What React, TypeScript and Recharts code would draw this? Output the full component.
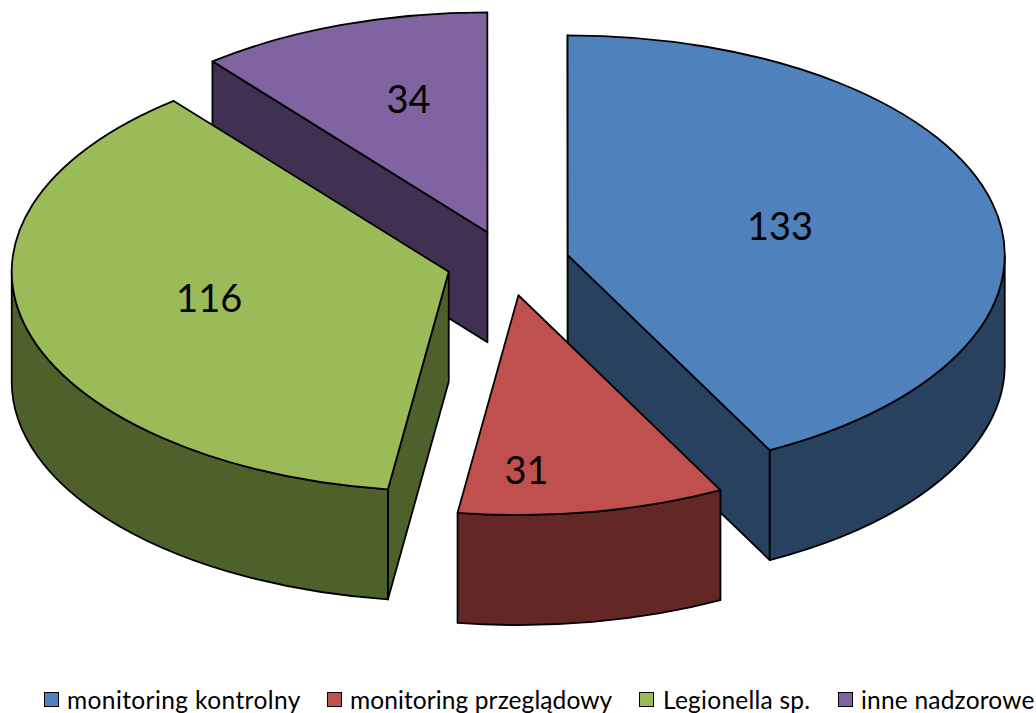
import React from 'react';
import { PieChart, Pie, Cell, Legend } from 'recharts';

const categories = ['monitoring kontrolny', 'monitoring przeglądowy', 'Legionella sp.', 'inne nadzorowe'];
const values = [133, 31, 116, 34];
const topColors = ['#4F81BD', '#C0504D', '#9BBB59', '#8064A2'];
const wallColors = ['#28415F', '#632726', '#4F612B', '#403152'];

// Painted back to front: the purple slice first, so the others overlap it.
const paintOrder = [3, 0, 1, 2];
const tableData = paintOrder.map((i) => ({ name: categories[i], value: values[i], index: i }));

const TILT = 0.503;
const DEPTH = 110;
const EXPLODE_X = 61.5;
const EXPLODE_Y = 32.7;
const labelNudge = [
  { dx: 0, dy: -4 },
  { dx: -29, dy: 65 },
  { dx: -29, dy: -4 },
  { dx: -6, dy: -31 },
];
const legendX = [
  { box: 44, text: 67, spacing: 0.4 },
  { box: 327, text: 350, spacing: 0.1 },
  { box: 639, text: 663, spacing: 0.25 },
  { box: 838, text: 861, spacing: 0.2 },
];

const rad = (d: number) => (d * Math.PI) / 180;

function Slice3D(props: any) {
  const { cx, cy, outerRadius, startAngle, endAngle, payload } = props;
  const idx = payload?.index ?? props.index;
  const a = 90 - startAngle;
  const b = 90 - endAngle;
  const mid = (a + b) / 2;
  const ox = cx + EXPLODE_X * Math.sin(rad(mid));
  const oy = cy - EXPLODE_Y * Math.cos(rad(mid));
  const pt = (t: number, drop = 0): [number, number] => [
    ox + outerRadius * Math.sin(rad(t)),
    oy - outerRadius * TILT * Math.cos(rad(t)) + drop,
  ];
  const p = (q: [number, number]) => `${q[0].toFixed(2)} ${q[1].toFixed(2)}`;
  const arc = (to: number, sweep: number, large: number, drop = 0) =>
    `A ${outerRadius} ${outerRadius * TILT} 0 ${large} ${sweep} ${p(pt(to, drop))}`;

  const walls: string[] = [];
  const apex: [number, number] = [ox, oy];
  const apexLow: [number, number] = [ox, oy + DEPTH];
  if (Math.sin(rad(a)) < -1e-6) {
    walls.push(`M ${p(apex)} L ${p(pt(a))} L ${p(pt(a, DEPTH))} L ${p(apexLow)} Z`);
  }
  if (Math.sin(rad(b)) > -1e-6) {
    walls.push(`M ${p(apex)} L ${p(pt(b))} L ${p(pt(b, DEPTH))} L ${p(apexLow)} Z`);
  }
  // Outer rim: only the near half of the ellipse (90..270 clockwise from top) shows.
  for (let k = -1; k <= 2; k++) {
    const lo = Math.max(a, 90 + 360 * k);
    const hi = Math.min(b, 270 + 360 * k);
    if (hi > lo) {
      walls.push(`M ${p(pt(lo))} ${arc(hi, 1, 0)} L ${p(pt(hi, DEPTH))} ${arc(lo, 0, 0, DEPTH)} Z`);
    }
  }
  const top = `M ${p(apex)} L ${p(pt(a))} ${arc(b, 1, b - a > 180 ? 1 : 0)} Z`;
  const lx = ox + 0.5 * outerRadius * Math.sin(rad(mid)) + labelNudge[idx].dx;
  const ly = oy - 0.5 * outerRadius * TILT * Math.cos(rad(mid)) + labelNudge[idx].dy;
  return (
    <g>
      {walls.map((d, i) => (
        <path key={i} d={d} fill={wallColors[idx]} stroke="#000" strokeWidth={1.8} strokeLinejoin="round" />
      ))}
      <path d={top} fill={topColors[idx]} stroke="#000" strokeWidth={1.8} strokeLinejoin="round" />
      <text x={lx} y={ly} textAnchor="middle" dominantBaseline="central" fontFamily="Lato, sans-serif" fontSize={38} fill="#000">
        {values[idx]}
      </text>
    </g>
  );
}

function LegendRow() {
  return (
    <div style={{ position: 'relative', width: 1036, height: 30 }}>
      {categories.map((c, i) => (
        <React.Fragment key={c}>
          <span
            style={{
              position: 'absolute', left: legendX[i].box, top: 9, width: 13, height: 13,
              background: topColors[i], border: '1.5px solid #000',
            }}
          />
          <span
            style={{
              position: 'absolute', left: legendX[i].text, top: 2, fontFamily: 'Lato, sans-serif',
              fontSize: 24.5, lineHeight: '30px', letterSpacing: legendX[i].spacing, color: '#000', whiteSpace: 'nowrap',
            }}
          >
            {c}
          </span>
        </React.Fragment>
      ))}
    </div>
  );
}

export default function App() {
  return (
    <div style={{ position: 'absolute', left: 0, top: 0, width: 1036, height: 713, overflow: 'hidden', background: '#fff' }}>
      <PieChart width={1036} height={713} margin={{ top: 0, right: 0, bottom: 0, left: 0 }} style={{ overflow: 'visible' }}>
        <Pie
          data={tableData}
          dataKey="value"
          nameKey="name"
          cx={508}
          cy={263}
          innerRadius={0}
          outerRadius={437}
          startAngle={-231}
          endAngle={-591}
          stroke="none"
          isAnimationActive={false}
          labelLine={false}
          shape={Slice3D}
        >
          {tableData.map((d) => (
            <Cell key={d.name} fill={topColors[d.index]} />
          ))}
        </Pie>
        <Legend content={<LegendRow />} wrapperStyle={{ left: 0, top: 683, width: 1036 }} />
      </PieChart>
    </div>
  );
}
